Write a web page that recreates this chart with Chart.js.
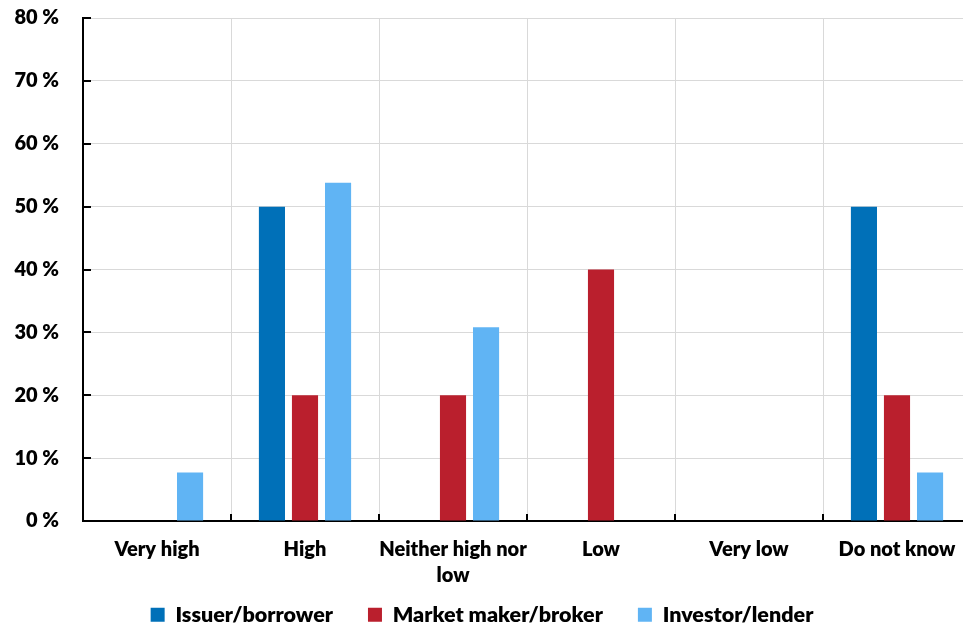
<!DOCTYPE html>
<html>
<head>
<meta charset="utf-8">
<script src="https://cdn.jsdelivr.net/npm/chart.js@4/dist/chart.umd.min.js"></script>
<style>
  html, body { margin: 0; padding: 0; overflow: hidden; background: #fff; }
  #wrap { width: 971px; height: 626px; position: relative; }
</style>
</head>
<body>
<div id="wrap"><canvas id="chart"></canvas></div>
<script>
// Survey answers, share of respondents (%) per answer
const categories = ['Very high', 'High', ['Neither high nor', 'low'], 'Low', 'Very low', 'Do not know'];
const issuerBorrower    = [0,   50,   0,    0,  0, 50];
const marketMakerBroker = [0,   20,   20,   40, 0, 20];
const investorLender    = [7.7, 53.8, 30.8, 0,  0, 7.7];
const yTickValues = [0, 10, 20, 30, 40, 50, 60, 70, 80];

const FONT = 'Lato';
const WEIGHT = 800;
const LEGEND_GAP = 35;

// Short black tick marks drawn inward from both axes
const innerTicks = {
  id: 'innerTicks',
  afterLayout(chart) {
    // pull the legend row up under the two-line category labels
    chart.legend.top -= LEGEND_GAP - 18;
  },
  afterDraw(chart) {
    const { ctx, chartArea: a, scales: { x, y } } = chart;
    ctx.save();
    ctx.strokeStyle = '#000';
    ctx.lineWidth = 2;
    ctx.beginPath();
    y.ticks.forEach((t, i) => {
      const py = Math.round(y.getPixelForTick(i));
      ctx.moveTo(a.left, py);
      ctx.lineTo(a.left + 8, py);
    });
    for (let i = 1; i < x.ticks.length; i++) {
      const px = Math.round((x.getPixelForTick(i - 1) + x.getPixelForTick(i)) / 2);
      ctx.moveTo(px, a.bottom);
      ctx.lineTo(px, a.bottom - 7);
    }
    ctx.stroke();
    ctx.restore();
  }
};

new Chart(document.getElementById('chart'), {
  type: 'bar',
  data: {
    labels: categories,
    datasets: [
      { label: 'Issuer/borrower',     data: issuerBorrower,    backgroundColor: '#0070B8' },
      { label: 'Market maker/broker', data: marketMakerBroker, backgroundColor: '#BA1F2D' },
      { label: 'Investor/lender',     data: investorLender,    backgroundColor: '#60B4F4' }
    ]
  },
  options: {
    responsive: true,
    maintainAspectRatio: false,
    animation: false,
    devicePixelRatio: 1,
    categoryPercentage: 0.67,
    barPercentage: 0.79,
    layout: { padding: { left: -7, right: 0, top: 18, bottom: 0 } },
    plugins: {
      legend: {
        position: 'bottom',
        maxHeight: 40,
        labels: {
          color: '#000',
          font: { family: FONT, weight: WEIGHT, size: 21.5 },
          boxWidth: 14,
          boxHeight: 14,
          padding: LEGEND_GAP
        }
      },
      tooltip: { enabled: false }
    },
    scales: {
      x: {
        grid: { color: '#d9d9d9', lineWidth: 1, drawTicks: false, offset: true },
        border: { color: '#000', width: 2 },
        ticks: {
          color: '#000',
          font: { family: FONT, weight: WEIGHT, size: 20, lineHeight: 1.3 },
          padding: 16,
          maxRotation: 0,
          autoSkip: false
        },
        afterFit(s) { s.height = 65; s.paddingLeft = 0; s.paddingRight = 0; }
      },
      y: {
        min: 0,
        max: 80,
        afterBuildTicks(s) { s.ticks = yTickValues.map(v => ({ value: v })); },
        grid: { color: '#d9d9d9', lineWidth: 1, drawTicks: false },
        border: { color: '#000', width: 2 },
        ticks: {
          color: '#000',
          font: { family: FONT, weight: WEIGHT, size: 20 },
          padding: 24,
          callback: v => v + ' %'
        },
        afterFit(s) { s.width = 90; s.paddingTop = 0; s.paddingBottom = 0; }
      }
    }
  },
  plugins: [innerTicks]
});
</script>
</body>
</html>
